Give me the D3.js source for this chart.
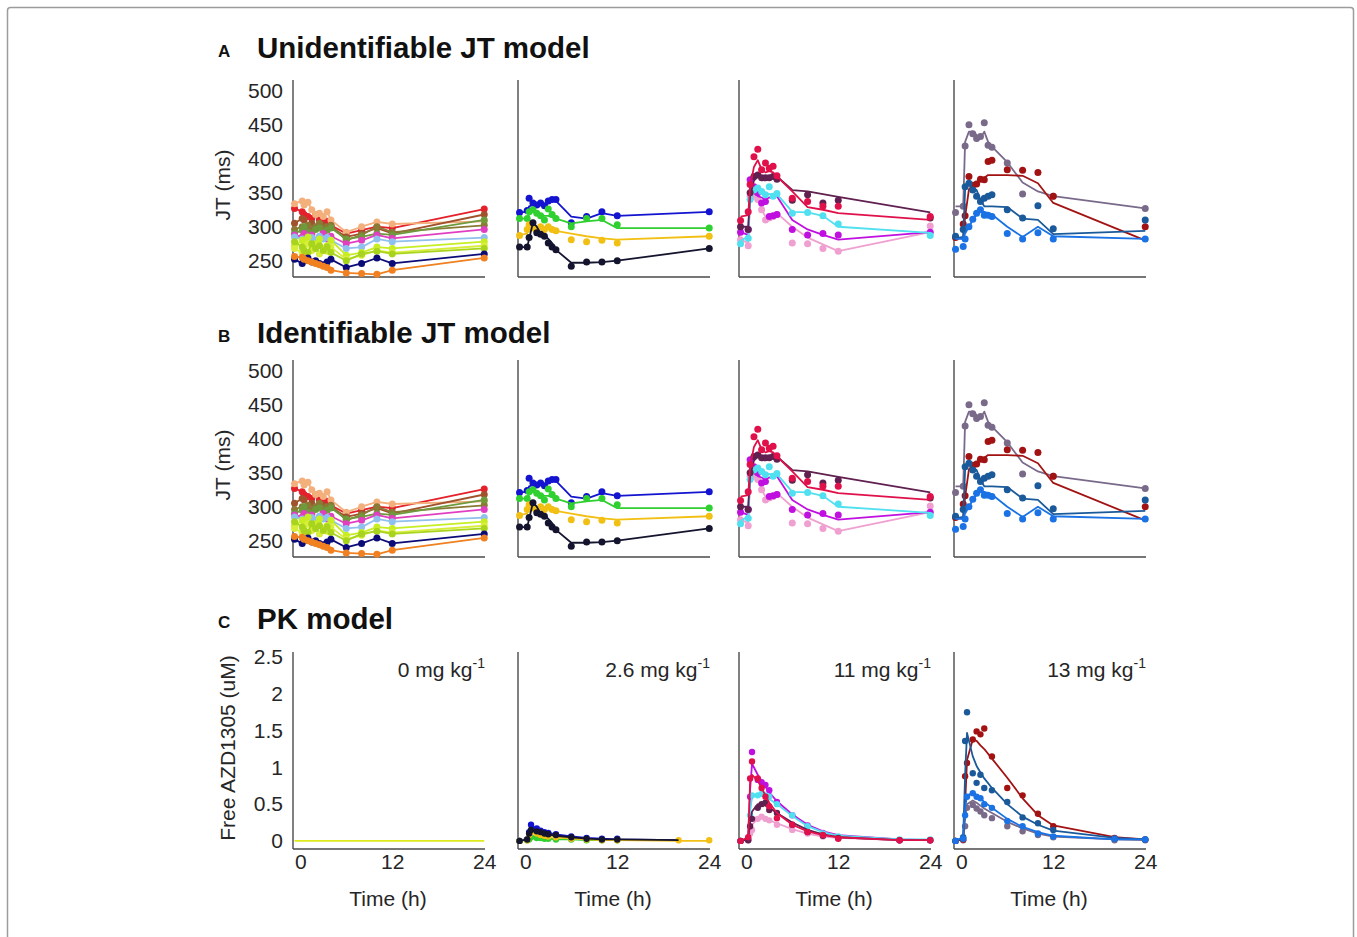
<!DOCTYPE html>
<html><head><meta charset="utf-8">
<script src="https://cdn.jsdelivr.net/npm/d3@7"></script>
<style>body{margin:0;background:#fff}svg text{font-family:"Liberation Sans",Arial,sans-serif}</style>
</head><body><svg id="c" width="1357" height="937"></svg>
<script>
// ---------------- DATA ----------------
const jtTimes = [-0.75, 0.25, 0.5, 1, 1.5, 2, 2.5, 3, 3.5, 4, 6, 8, 10, 12, 24];
const pkTimes = [-0.75, 0.25, 0.5, 0.75, 1.5, 2, 2.5, 3, 4, 6, 8, 10, 12, 20, 24];
const doseLabels = ["0", "2.6", "11", "13"];
const jtTicks = [250, 300, 350, 400, 450, 500];
const pkTicks = [0, 0.5, 1, 1.5, 2, 2.5];
const timeTicks = [0, 12, 24];
const panelTitles = ["Unidentifiable JT model", "Identifiable JT model", "PK model"];
const panelLetters = ["A", "B", "C"];

// 0 mg/kg
const colors0 = ["#e4202a", "#f4b07c", "#a0522d", "#8a7a36", "#6e9a3c", "#e040c0", "#90c0ee", "#c6ee22", "#d8ee3a", "#a8d41e", "#0c0c78", "#f08020"];
const jtObs0 = [
  [327, 322, 318, 315, 312, 318, 310, 305, 308, 302, 290, 295, 300, 298, 326],
  [334, 338, 332, 336, 325, 318, 320, 315, 322, 310, 292, 300, 307, 304, 308],
  [305, 312, 310, 300, 305, 298, 300, 302, 298, 300, 285, 290, 298, 290, 318],
  [296, 300, 298, 302, 295, 300, 305, 298, 300, 302, 280, 288, 300, 292, 302],
  [290, 295, 300, 292, 290, 296, 298, 292, 295, 298, 282, 285, 290, 288, 310],
  [288, 285, 290, 282, 288, 280, 285, 290, 282, 286, 275, 280, 288, 283, 296],
  [285, 282, 280, 278, 284, 280, 286, 282, 284, 280, 268, 270, 282, 278, 284],
  [272, 280, 276, 285, 270, 275, 282, 268, 272, 280, 258, 262, 270, 268, 278],
  [268, 262, 270, 275, 265, 272, 260, 268, 264, 270, 252, 258, 265, 262, 272],
  [278, 270, 265, 262, 275, 268, 272, 265, 270, 262, 250, 260, 264, 260, 268],
  [252, 246, 250, 254, 248, 250, 246, 244, 248, 252, 240, 246, 254, 246, 260],
  [256, 255, 252, 250, 248, 246, 244, 242, 240, 236, 232, 231, 230, 236, 254]
];
const pkFit0 = [0, 0, 0, 0, 0, 0, 0, 0, 0, 0, 0, 0, 0, 0, 0];
const pkColor0 = "#dcea1c";

// 2.6 mg/kg
const colors26 = ["#1414d0", "#30d030", "#f2c014", "#14142e"];
const jtObs26 = [
  [321, 324, 342, 335, 332, 335, 331, 338, 340, 340, 306, 315, 322, 316, 322],
  [312, 312, 322, 325, 320, 316, 310, 326, 318, 312, 300, 312, 312, 303, 298],
  [287, 296, 303, 298, 296, 300, 296, 300, 296, 294, 281, 278, 280, 276, 286],
  [270, 270, 284, 306, 291, 289, 286, 276, 270, 266, 242, 248, 248, 250, 268]
];
const jtFit26 = [
  [321, 322, 330, 332, 332, 332, 330, 335, 338, 338, 315, 312, 320, 316, 322],
  [312, 312, 318, 322, 320, 318, 316, 316, 314, 312, 305, 308, 310, 298, 298],
  [288, 290, 298, 300, 298, 298, 297, 296, 295, 294, 290, 286, 283, 281, 286],
  [270, 270, 282, 306, 300, 290, 288, 282, 276, 266, 247, 247, 248, 250, 268]
];
const pkObs26 = [
  [0, 0.02, 0.12, 0.22, 0.17, 0.14, 0.12, 0.11, 0.09, 0.06, 0.04, 0.03, 0.03, null, null],
  [0, 0.01, 0.02, 0.05, 0.04, 0.04, 0.03, 0.03, 0.02, 0.02, 0.01, 0.01, 0.01, null, null],
  [0, 0.01, 0.08, 0.12, 0.10, 0.08, 0.07, 0.06, 0.05, 0.03, 0.02, 0.01, 0.01, 0.01, 0.01],
  [0, 0.02, 0.10, 0.15, 0.13, 0.12, 0.10, 0.09, 0.08, 0.05, 0.03, 0.02, 0.02, null, null]
];
const pkFit26 = [
  [0, 0.03, 0.15, 0.20, 0.17, 0.15, 0.13, 0.11, 0.09, 0.06, 0.04, 0.03, 0.02, 0.01, null],
  [0, 0.01, 0.03, 0.05, 0.04, 0.04, 0.03, 0.03, 0.02, 0.02, 0.01, 0.01, 0.01, null, null],
  [0, 0.02, 0.08, 0.11, 0.10, 0.09, 0.08, 0.07, 0.05, 0.03, 0.02, 0.01, 0.01, 0.00, 0.00],
  [0, 0.02, 0.10, 0.14, 0.13, 0.12, 0.10, 0.09, 0.07, 0.05, 0.03, 0.02, 0.02, 0.01, null]
];

// 11 mg/kg
const colors11 = ["#f0a0d0", "#c010e0", "#50e0f0", "#602050", "#e0104a"];
const jtObs11 = [
  [281, 272, 345, 345, 340, 325, 310, 313, 315, 318, 276, 275, 268, 264, 301],
  [292, 296, 369, 359, 350, 335, 337, 315, 316, 318, 296, 288, 290, 288, 292],
  [275, 283, 340, 354, 357, 352, 347, 359, 345, 349, 320, 321, 316, 304, 287],
  [300, 296, 350, 374, 376, 372, 372, 372, 374, 370, 339, 347, 335, 339, 313],
  [309, 322, 362, 403, 414, 384, 394, 386, 389, 375, 342, 337, 330, 330, 315]
];
const jtFit11 = [
  [281, 276, 335, 345, 342, 325, 315, 310, 315, 320, 300, 284, 274, 264, 292],
  [292, 288, 359, 350, 345, 343, 340, 343, 343, 345, 310, 296, 288, 281, 292],
  [279, 286, 335, 354, 357, 352, 350, 348, 348, 348, 322, 321, 316, 300, 291],
  [300, 300, 345, 368, 374, 374, 374, 374, 374, 374, 354, 352, 348, 344, 321],
  [315, 317, 359, 388, 398, 384, 380, 382, 380, 374, 352, 329, 325, 320, 310]
];
const pkObs11 = [
  [0, 0.01, 0.10, 0.15, 0.30, 0.33, 0.30, 0.28, 0.22, 0.15, 0.10, 0.06, 0.04, 0.01, 0.01],
  [0, 0.02, 0.60, 1.21, 0.83, 0.80, 0.76, 0.69, 0.53, 0.35, 0.21, 0.11, 0.05, 0.01, 0.01],
  [0, 0.03, 0.35, 0.62, 0.62, 0.64, 0.62, 0.60, 0.50, 0.35, 0.20, 0.10, 0.06, 0.02, 0.02],
  [0, 0.01, 0.20, 0.30, 0.45, 0.50, 0.52, 0.42, 0.38, 0.22, 0.12, 0.07, 0.04, 0.01, 0.01],
  [0, 0.05, 0.85, 1.08, 0.85, 0.72, 0.60, 0.47, 0.31, 0.22, 0.12, 0.08, 0.03, 0.01, 0.01]
];
const pkFit11 = [
  [0, 0.01, 0.12, 0.22, 0.30, 0.31, 0.30, 0.28, 0.24, 0.16, 0.10, 0.06, 0.04, 0.01, 0.01],
  [0, 0.03, 0.70, 1.05, 0.90, 0.82, 0.74, 0.66, 0.54, 0.36, 0.22, 0.13, 0.08, 0.02, 0.01],
  [0, 0.03, 0.40, 0.60, 0.63, 0.62, 0.60, 0.57, 0.50, 0.34, 0.20, 0.12, 0.07, 0.02, 0.02],
  [0, 0.02, 0.25, 0.40, 0.50, 0.50, 0.48, 0.45, 0.38, 0.25, 0.15, 0.09, 0.05, 0.01, 0.01],
  [0, 0.05, 0.80, 0.90, 0.82, 0.72, 0.62, 0.52, 0.38, 0.22, 0.13, 0.08, 0.05, 0.01, 0.01]
];

// 13 mg/kg
const colors13 = ["#7a6a8a", "#a31212", "#1a5a9a", "#1a72e4"];
const jtObs13 = [
  [321, 330, 419, 450, 437, 430, 433, 453, 420, 417, 394, 348, null, 345, 327],
  [284, 304, 316, 374, 361, 363, 370, 369, 396, 398, 384, 383, 380, 345, 300],
  [286, 296, 359, 364, 354, 345, 337, 342, 345, 347, 325, 313, 331, 297, 310],
  [267, 271, 282, 300, 311, 320, 325, 317, 317, 315, 290, 282, 291, 282, 282]
];
const jtFit13 = [
  [330, 330, 425, 440, 440, 435, 430, 440, 425, 418, 395, 365, 352, 345, 327],
  [283, 283, 315, 355, 361, 365, 370, 372, 376, 376, 376, 375, 364, 335, 280],
  [283, 285, 355, 364, 357, 354, 340, 330, 330, 330, 329, 312, 310, 289, 294],
  [282, 282, 290, 300, 310, 318, 322, 322, 320, 318, 300, 285, 300, 286, 282]
];
const pkObs13 = [
  [0, 0.01, 0.20, 0.45, 0.49, 0.44, 0.40, 0.35, 0.31, 0.20, 0.13, 0.08, 0.05, 0.01, 0.01],
  [0, 0.02, 0.88, 1.06, 1.38, 1.49, 1.45, 1.53, 1.15, 0.72, 0.62, 0.37, 0.20, 0.04, 0.02],
  [0, 0.05, 1.36, 1.75, 0.92, 0.79, 0.90, 0.72, 0.69, 0.53, 0.32, 0.24, 0.15, 0.03, 0.02],
  [0, 0.03, 0.35, 0.60, 0.65, 0.60, 0.58, 0.50, 0.45, 0.27, 0.20, 0.10, 0.06, 0.03, 0.02]
];
const pkFit13 = [
  [0, 0.02, 0.30, 0.50, 0.55, 0.52, 0.48, 0.44, 0.38, 0.26, 0.17, 0.10, 0.06, 0.02, 0.01],
  [0, 0.02, 0.50, 1.10, 1.38, 1.36, 1.30, 1.25, 1.12, 0.86, 0.58, 0.35, 0.21, 0.05, 0.02],
  [0, 0.05, 0.90, 1.47, 1.15, 1.02, 0.93, 0.85, 0.72, 0.50, 0.33, 0.22, 0.14, 0.04, 0.02],
  [0, 0.05, 0.45, 0.62, 0.65, 0.62, 0.58, 0.53, 0.45, 0.30, 0.19, 0.12, 0.07, 0.02, 0.02]
];

// ---------------- LAYOUT ----------------
const svg = d3.select("#c");
const font = '"Liberation Sans", Arial, sans-serif';
svg.append("rect").attr("x", 7.5).attr("y", 7.5).attr("width", 1346).attr("height", 960)
  .attr("rx", 3).attr("fill", "none").attr("stroke", "#9c9c9c").attr("stroke-width", 1.5);

const axisXs = [293, 518, 739, 954];
const plotW = 192;
const jtTops = [80, 360];
const plotH = 197;
const pkTop = 652;
const axisColor = "#4a4a4a";

function xScaleFor(i) {
  return d3.scaleLinear().domain([-0.95, 24.1]).range([axisXs[i], axisXs[i] + plotW]);
}

function drawFrame(i, top) {
  const g = svg.append("g");
  g.append("line").attr("x1", axisXs[i]).attr("x2", axisXs[i]).attr("y1", top).attr("y2", top + plotH)
    .attr("stroke", axisColor).attr("stroke-width", 1.4);
  g.append("line").attr("x1", axisXs[i]).attr("x2", axisXs[i] + plotW).attr("y1", top + plotH).attr("y2", top + plotH)
    .attr("stroke", axisColor).attr("stroke-width", 1.4);
}

function drawSeries(xS, yS, times, colors, obs, fit, r) {
  const g = svg.append("g");
  const line = d3.line().defined(d => d[1] != null).x(d => xS(d[0])).y(d => yS(d[1]));
  colors.forEach((c, k) => {
    if (fit && fit[k]) {
      g.append("path").attr("d", line(times.map((t, j) => [t, fit[k][j]])))
        .attr("fill", "none").attr("stroke", c).attr("stroke-width", 1.8).attr("stroke-linejoin", "round");
    }
    if (obs && obs[k]) {
      g.selectAll(null).data(times.map((t, j) => [t, obs[k][j]]).filter(d => d[1] != null))
        .enter().append("circle").attr("cx", d => xS(d[0])).attr("cy", d => yS(d[1]))
        .attr("r", r).attr("fill", c);
    }
  });
}

const groups = [
  {colors: colors0, jtObs: jtObs0, jtFit: jtObs0, pkObs: null, pkFit: [pkFit0], pkColors: [pkColor0]},
  {colors: colors26, jtObs: jtObs26, jtFit: jtFit26, pkObs: pkObs26, pkFit: pkFit26, pkColors: colors26},
  {colors: colors11, jtObs: jtObs11, jtFit: jtFit11, pkObs: pkObs11, pkFit: pkFit11, pkColors: colors11},
  {colors: colors13, jtObs: jtObs13, jtFit: jtFit13, pkObs: pkObs13, pkFit: pkFit13, pkColors: colors13}
];

// Panel titles
const titleBaselines = [58, 343, 629];
titleBaselines.forEach((b, p) => {
  svg.append("text").attr("x", 218).attr("y", b - 1).attr("font-size", 17).attr("font-weight", "bold")
    .attr("fill", "#111").text(panelLetters[p]);
  svg.append("text").attr("x", 257).attr("y", b).attr("font-size", 29.5).attr("font-weight", "bold")
    .attr("fill", "#111").text(panelTitles[p]);
});

// JT panels (A, B)
jtTops.forEach((top, p) => {
  const yS = d3.scaleLinear().domain([226, 516]).range([top + plotH, top]);
  groups.forEach((gr, i) => {
    const xS = xScaleFor(i);
    drawFrame(i, top);
    drawSeries(xS, yS, jtTimes, gr.colors, gr.jtObs, gr.jtFit, 3.5);
  });
  const ax = svg.append("g").attr("transform", `translate(${axisXs[0]},0)`)
    .call(d3.axisLeft(yS).tickValues(jtTicks).tickSize(0).tickPadding(10));
  ax.select(".domain").remove();
  ax.selectAll("text").attr("font-size", 21).attr("fill", "#262626").style("font-family", font);
  svg.append("text").attr("transform", `translate(230,${top + 105}) rotate(-90)`)
    .attr("text-anchor", "middle").attr("font-size", 21).attr("fill", "#262626").text("JT (ms)");
});

// PK panel (C)
const yPK = d3.scaleLinear().domain([-0.11, 2.57]).range([pkTop + plotH, pkTop]);
groups.forEach((gr, i) => {
  const xS = xScaleFor(i);
  drawFrame(i, pkTop);
  drawSeries(xS, yPK, pkTimes, gr.pkColors, gr.pkObs, gr.pkFit, 3.2);
  const xa = svg.append("g").attr("transform", `translate(0,${pkTop + plotH})`)
    .call(d3.axisBottom(xS).tickValues(timeTicks).tickSize(0).tickPadding(5));
  xa.select(".domain").remove();
  xa.selectAll("text").attr("font-size", 21).attr("fill", "#262626").style("font-family", font);
  svg.append("text").attr("x", axisXs[i] + 95).attr("y", 906).attr("text-anchor", "middle")
    .attr("font-size", 21).attr("fill", "#262626").text("Time (h)");
  const lab = svg.append("text").attr("x", axisXs[i] + plotW).attr("y", 677).attr("text-anchor", "end")
    .attr("font-size", 21).attr("fill", "#262626");
  lab.append("tspan").text(doseLabels[i] + " mg kg");
  lab.append("tspan").attr("dy", -9).attr("font-size", 14).text("-1");
});
const pa = svg.append("g").attr("transform", `translate(${axisXs[0]},0)`)
  .call(d3.axisLeft(yPK).tickValues(pkTicks).tickSize(0).tickPadding(10).tickFormat(d3.format("")));
pa.select(".domain").remove();
pa.selectAll("text").attr("font-size", 21).attr("fill", "#262626").style("font-family", font);
svg.append("text").attr("transform", `translate(235,748) rotate(-90)`)
  .attr("text-anchor", "middle").attr("font-size", 21).attr("fill", "#262626").text("Free AZD1305 (uM)");
</script></body></html>
